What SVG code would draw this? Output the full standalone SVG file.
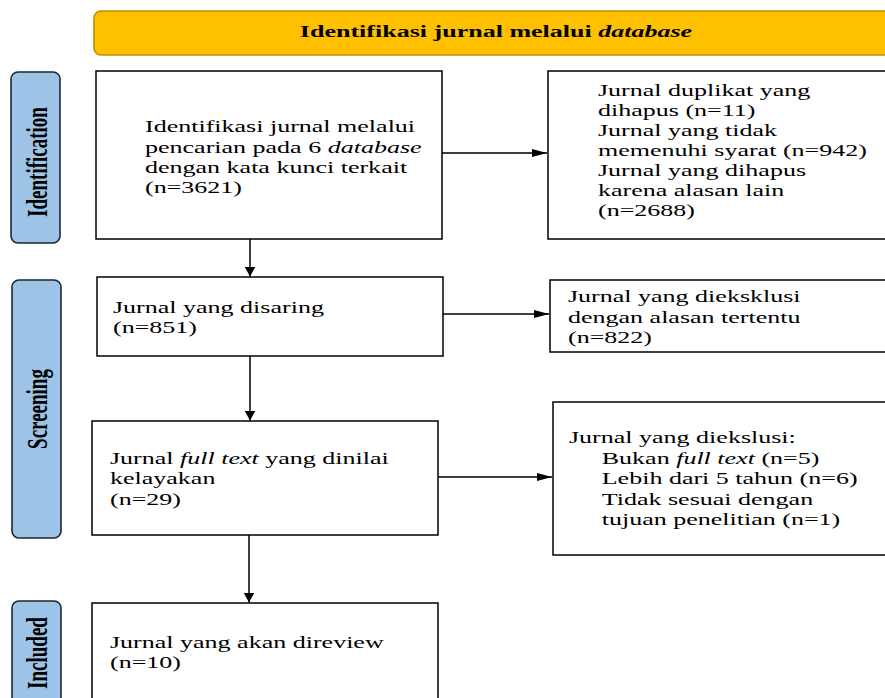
<svg xmlns="http://www.w3.org/2000/svg" width="885" height="698" viewBox="0 0 885 698">
<defs>
<style>
.box{fill:#fff;stroke:#000;stroke-width:1.5}
.lbl{fill:#9DC3E6;stroke:#1c2633;stroke-width:1.6}
.hdr{fill:#FFC000;stroke:#BF9000;stroke-width:1.6}
.t{font-family:"Liberation Serif","Times New Roman",serif;font-size:17px;fill:#000}
.b{font-weight:bold}
.i{font-style:italic}
.lt{font-family:"Liberation Serif","Times New Roman",serif;font-size:19px;font-weight:bold;fill:#000;text-anchor:middle}
.con{stroke:#000;stroke-width:1.5;fill:none}
</style>
<marker id="ah" markerUnits="userSpaceOnUse" markerWidth="16" markerHeight="10" refX="15" refY="4" orient="auto">
<path d="M0,0 L15,4 L0,8 Z" fill="#000"/>
</marker>
<marker id="av" markerUnits="userSpaceOnUse" markerWidth="11" markerHeight="12" refX="10" refY="5.5" orient="auto">
<path d="M0,0 L10,5.5 L0,11 Z" fill="#000"/>
</marker>
</defs>

<g id="header">
<rect class="hdr" x="94" y="11" width="800" height="44" rx="7"/>
<text class="t b" transform="matrix(1.53 0 0 1 496 0)" x="0" y="37" text-anchor="middle">Identifikasi jurnal melalui <tspan class="i">database</tspan></text>
</g>

<g id="label-identification">
<rect class="lbl" x="11" y="72" width="49" height="171" rx="7"/>
<text class="lt" transform="translate(47,162) rotate(-90) scale(1,1.5)" x="0" y="0">Identification</text>
</g>
<g id="label-screening">
<rect class="lbl" x="12" y="280" width="49" height="258" rx="7"/>
<text class="lt" transform="translate(47,409) rotate(-90) scale(1,1.5)" x="0" y="0">Screening</text>
</g>
<g id="label-included">
<rect class="lbl" x="12" y="601" width="49" height="110" rx="7"/>
<text class="lt" transform="translate(47,653) rotate(-90) scale(1,1.5)" x="0" y="0">Included</text>
</g>

<g id="box-identifikasi">
<rect class="box" x="96" y="71" width="346" height="168"/>
<text class="t" transform="matrix(1.53 0 0 1 145 0)">
<tspan x="0" y="132.5">Identifikasi jurnal melalui</tspan>
<tspan x="0" y="152.7">pencarian pada 6 <tspan class="i">database</tspan></tspan>
<tspan x="0" y="172.9">dengan kata kunci terkait</tspan>
<tspan x="0" y="193">(n=3621)</tspan>
</text>
</g>

<g id="box-dihapus">
<rect class="box" x="548" y="71" width="345" height="168"/>
<text class="t" transform="matrix(1.53 0 0 1 598 0)">
<tspan x="0" y="96">Jurnal duplikat yang</tspan>
<tspan x="0" y="116">dihapus (n=11)</tspan>
<tspan x="0" y="136">Jurnal yang tidak</tspan>
<tspan x="0" y="156">memenuhi syarat (n=942)</tspan>
<tspan x="0" y="176">Jurnal yang dihapus</tspan>
<tspan x="0" y="196">karena alasan lain</tspan>
<tspan x="0" y="216">(n=2688)</tspan>
</text>
</g>

<g id="box-disaring">
<rect class="box" x="97" y="277" width="346" height="79"/>
<text class="t" transform="matrix(1.53 0 0 1 113 0)">
<tspan x="0" y="313">Jurnal yang disaring</tspan>
<tspan x="0" y="333.5">(n=851)</tspan>
</text>
</g>

<g id="box-dieksklusi">
<rect class="box" x="550" y="280" width="345" height="72"/>
<text class="t" transform="matrix(1.53 0 0 1 568 0)">
<tspan x="0" y="302.5">Jurnal yang dieksklusi</tspan>
<tspan x="0" y="323">dengan alasan tertentu</tspan>
<tspan x="0" y="343.5">(n=822)</tspan>
</text>
</g>

<g id="box-fulltext">
<rect class="box" x="92" y="421" width="346" height="114"/>
<text class="t" transform="matrix(1.53 0 0 1 110 0)">
<tspan x="0" y="464">Jurnal <tspan class="i">full text</tspan> yang dinilai</tspan>
<tspan x="0" y="484.5">kelayakan</tspan>
<tspan x="0" y="505">(n=29)</tspan>
</text>
</g>

<g id="box-diekslusi">
<rect class="box" x="553" y="402" width="345" height="153"/>
<text class="t" transform="matrix(1.53 0 0 1 569 0)">
<tspan x="0" y="443">Jurnal yang diekslusi:</tspan>
<tspan x="21.4" y="464">Bukan <tspan class="i">full text</tspan> (n=5)</tspan>
<tspan x="21.4" y="484.5">Lebih dari 5 tahun (n=6)</tspan>
<tspan x="21.4" y="505">Tidak sesuai dengan</tspan>
<tspan x="21.4" y="525.5">tujuan penelitian (n=1)</tspan>
</text>
</g>

<g id="box-direview">
<rect class="box" x="92" y="603" width="346" height="110"/>
<text class="t" transform="matrix(1.53 0 0 1 110 0)">
<tspan x="0" y="648">Jurnal yang akan direview</tspan>
<tspan x="0" y="668.5">(n=10)</tspan>
</text>
</g>

<g id="connectors">
<line class="con" x1="442" y1="153" x2="547" y2="153" marker-end="url(#ah)"/>
<line class="con" x1="250" y1="239" x2="250" y2="276.5" marker-end="url(#av)"/>
<line class="con" x1="443" y1="314" x2="549" y2="314" marker-end="url(#ah)"/>
<line class="con" x1="250" y1="356" x2="250" y2="420.5" marker-end="url(#av)"/>
<line class="con" x1="438" y1="477" x2="552" y2="477" marker-end="url(#ah)"/>
<line class="con" x1="249" y1="535" x2="249" y2="602.5" marker-end="url(#av)"/>
</g>
</svg>
